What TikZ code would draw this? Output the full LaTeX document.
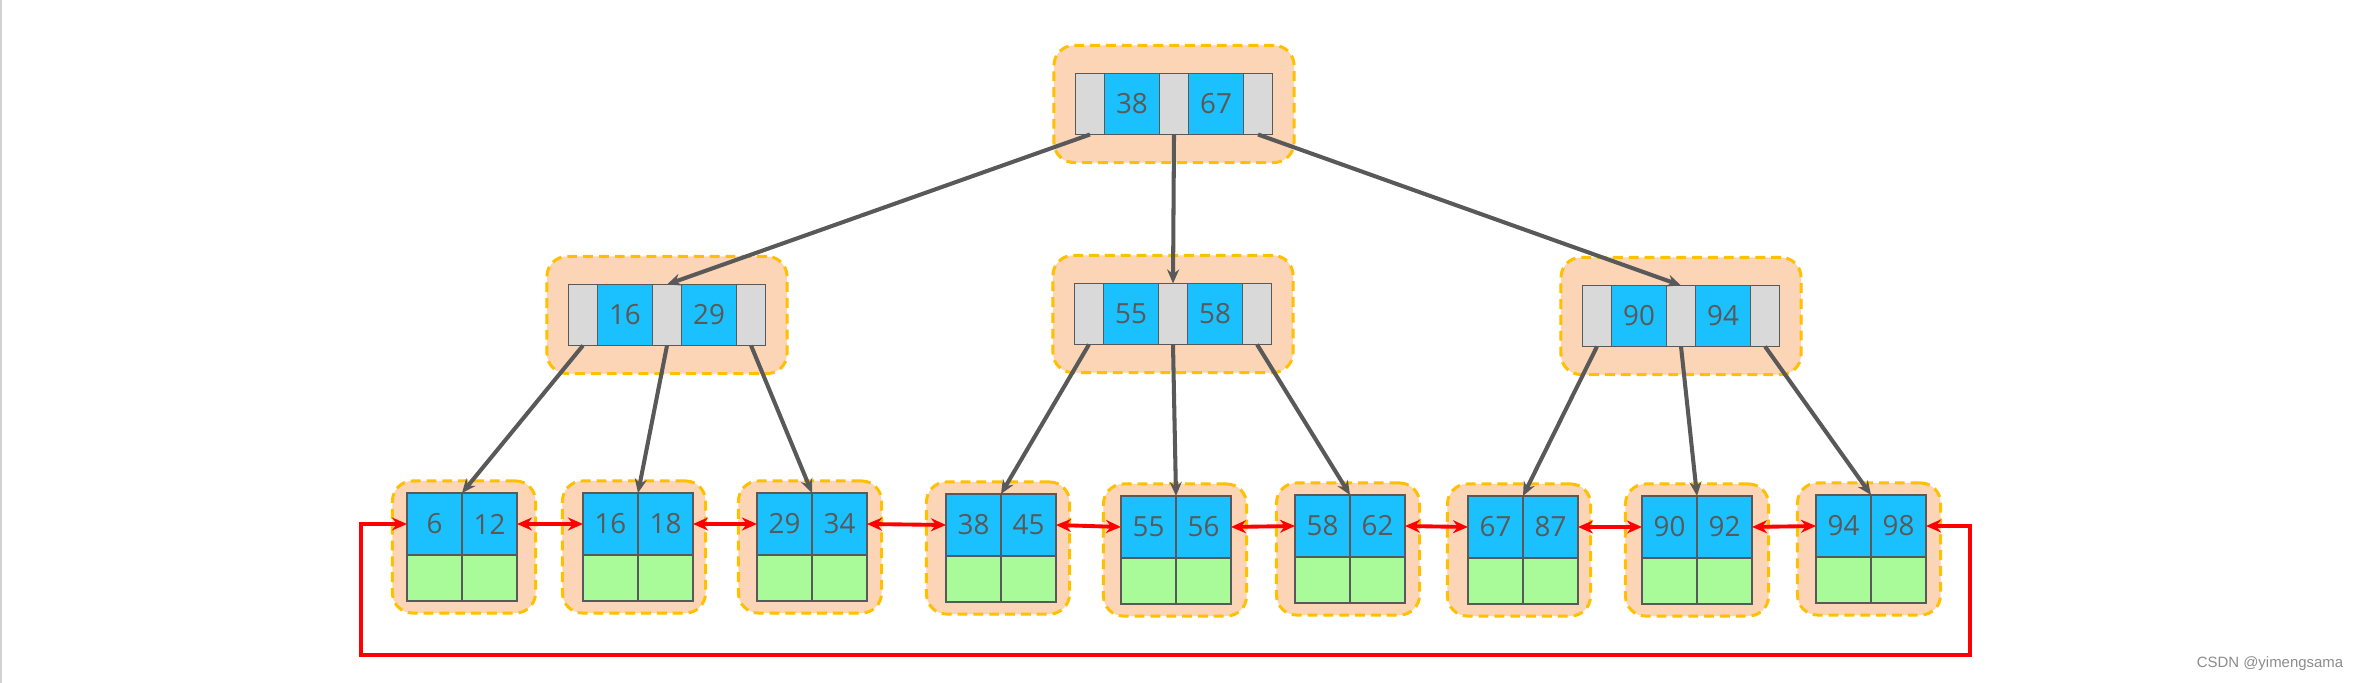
\documentclass[tikz,border=0pt]{standalone}
\usepackage{fontspec}
\usepackage{tikz}
\usepackage{xcolor}
\usetikzlibrary{arrows.meta, positioning}
\setmainfont{Open Sans}
\newfontfamily\markfont{Liberation Sans}
\definecolor{keyblue}{RGB}{27, 193, 255}
\definecolor{ptrgray}{RGB}{217, 217, 217}
\definecolor{datagreen}{RGB}{169, 250, 153}
\definecolor{pageorange}{RGB}{251, 213, 181}
\definecolor{dashgold}{RGB}{255, 192, 0}
\definecolor{edgegray}{RGB}{89, 89, 89}
\tikzstyle{page} = [rectangle, rounded corners=0.2cm, minimum width=2.4cm, minimum height=1.17cm, draw=dashgold, fill=pageorange, line width=0.85pt, dash pattern=on 2.8pt off 1.7pt]
\tikzstyle{leafpage} = [page, minimum width=1.43cm, minimum height=1.32cm]
\tikzstyle{ptr} = [rectangle, minimum width=0.29cm, minimum height=0.61cm, inner sep=0pt, outer sep=0pt, draw=edgegray, fill=ptrgray, line width=0.5pt]
\tikzstyle{key} = [ptr, minimum width=0.55cm, fill=keyblue, text=edgegray, font=\fontsize{7.9pt}{9pt}\selectfont]
\tikzstyle{lkey} = [key, minimum height=0.62cm]
\tikzstyle{data} = [ptr, minimum width=0.55cm, minimum height=0.46cm, fill=datagreen]
\tikzstyle{arrow} = [line width=1.15pt, draw=edgegray, -{Stealth[length=0.14cm, width=0.12cm]}]
\tikzstyle{link} = [line width=1.1pt, draw=red, {Stealth[length=0.15cm, width=0.13cm]}-{Stealth[length=0.15cm, width=0.13cm]}]

% inner page: name, x, y, left key, right key
\newcommand{\innernode}[5]{%
  \node[page] (#1) at (#2,#3) {};
  \node[ptr] (#1-p1) at (#2,#3) {};
  \node[key, left=0pt of #1-p1] (#1-k1) {#4};
  \node[ptr, left=0pt of #1-k1] (#1-p0) {};
  \node[key, right=0pt of #1-p1] (#1-k2) {#5};
  \node[ptr, right=0pt of #1-k2] (#1-p2) {};
}
% leaf page: name, x, y, left key, right key, page shift
\newcommand{\leafnode}[6]{%
  \node[leafpage] (#1) at (#2+#6,#3+23) {};
  \node[lkey, anchor=east] (#1-k1) at (#2,#3) {#4};
  \node[lkey, anchor=west] (#1-k2) at (#2,#3) {#5};
  \node[data, below=0pt of #1-k1] (#1-d1) {};
  \node[data, below=0pt of #1-k2] (#1-d2) {};
}

\begin{document}
\begin{tikzpicture}[x=0.01cm, y=-0.01cm]
        \fill[white] (0,0) rectangle (2358,683);
        \useasboundingbox (0,0) rectangle (2358,683);
        \draw[black!18, line width=0.6pt] (1,0) -- (1,683);

        % Root and inner pages
        \innernode{root}{1174}{104}{38}{67}
        \innernode{ml}{667}{315}{16}{29}
        \innernode{mm}{1173}{314}{55}{58}
        \innernode{mr}{1681}{316}{90}{94}

        % Leaf pages
        \leafnode{l1}{462}{524}{6}{12}{2}
        \leafnode{l2}{638}{524}{16}{18}{-4}
        \leafnode{l3}{812}{524}{29}{34}{-2}
        \leafnode{l4}{1001}{525}{38}{45}{-3}
        \leafnode{l5}{1176}{527}{55}{56}{-1}
        \leafnode{l6}{1350}{526}{58}{62}{-2}
        \leafnode{l7}{1523}{527}{67}{87}{-4}
        \leafnode{l8}{1697}{527}{90}{92}{0}
        \leafnode{l9}{1871}{526}{94}{98}{-2}

        % Pointers from the root
        \draw[arrow] (root-p0.south) -- (ml-p1.north);
        \draw[arrow] (root-p1.south) -- (mm-p1.north);
        \draw[arrow] (root-p2.south) -- (mr-p1.north);

        % Pointers to the leaves
        \draw[arrow] (ml-p0.south) -- (l1-k1.north east);
        \draw[arrow] (ml-p1.south) -- (l2-k1.north east);
        \draw[arrow] (ml-p2.south) -- (l3-k1.north east);
        \draw[arrow] (mm-p0.south) -- (l4-k1.north east);
        \draw[arrow] (mm-p1.south) -- (l5-k1.north east);
        \draw[arrow] (mm-p2.south) -- (l6-k1.north east);
        \draw[arrow] (mr-p0.south) -- (l7-k1.north east);
        \draw[arrow] (mr-p1.south) -- (l8-k1.north east);
        \draw[arrow] (mr-p2.south) -- (l9-k1.north east);

        % Leaf chain
        \draw[link] (l1-k2.east) -- (l2-k1.west);
        \draw[link] (l2-k2.east) -- (l3-k1.west);
        \draw[link] (l3-k2.east) -- (l4-k1.west);
        \draw[link] (l4-k2.east) -- (l5-k1.west);
        \draw[link] (l5-k2.east) -- (l6-k1.west);
        \draw[link] (l6-k2.east) -- (l7-k1.west);
        \draw[link] (l7-k2.east) -- (l8-k1.west);
        \draw[link] (l8-k2.east) -- (l9-k1.west);
        \coordinate (loopR) at (1970,655);
        \coordinate (loopL) at (361,655);
        \draw[link] (l9-k2.east) -| (loopR) -- (loopL) |- (l1-k1.west);

        % Watermark
        \node[text=black!45, font=\markfont\fontsize{4.25pt}{5pt}\selectfont] (mark) at (2270,664) {CSDN @yimengsama};
    \end{tikzpicture}
\end{document}
